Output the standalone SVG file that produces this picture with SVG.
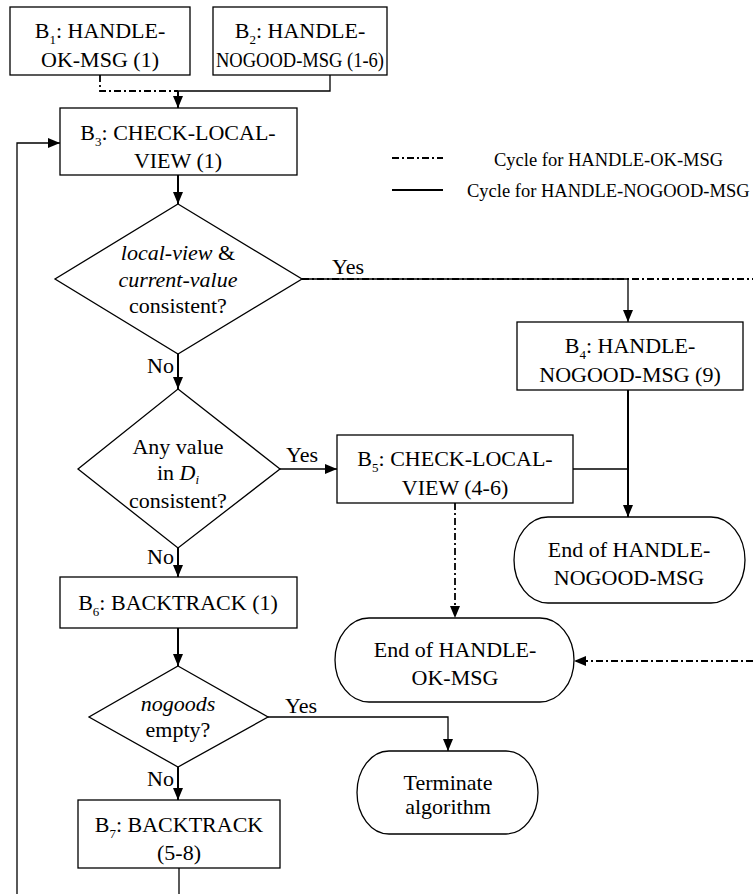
<svg xmlns="http://www.w3.org/2000/svg" width="753" height="894" viewBox="0 0 753 894" font-family="'Liberation Serif', 'Times New Roman', 'DejaVu Serif', serif">
<style>
text{font-family:'Liberation Serif','Times New Roman','DejaVu Serif',serif;font-size:22px;fill:#000}
.c{text-anchor:middle}
.lg{font-size:18.5px}
.sub{font-size:13px}
.it{font-style:italic}
.box{fill:#fff;stroke:#000;stroke-width:1.3}
.ln{fill:none;stroke:#000;stroke-width:1.3}
.th{fill:none;stroke:#000;stroke-width:2}
.dd{fill:none;stroke:#000;stroke-width:1.8;stroke-dasharray:7 3 2 3}
</style>
<defs>
<marker id="arr" viewBox="0 0 12 10" refX="12" refY="5" markerWidth="12" markerHeight="10" orient="auto" markerUnits="userSpaceOnUse">
<path d="M0,0 L12,5 L0,10 z" fill="#000" stroke="none"/>
</marker>
</defs>
<g id="connectors">
<path class="dd" d="M100,75 V91 H178"/>
<path class="ln" d="M330,75 V91 H178"/>
<path class="th" d="M178,91 V108" marker-end="url(#arr)"/>
<path class="th" d="M178,175 V204" marker-end="url(#arr)"/>
<path class="dd" d="M302,279 H753"/>
<path class="ln" d="M302,279 H628 V322" marker-end="url(#arr)"/>
<path class="th" d="M178,354 V389" marker-end="url(#arr)"/>
<path class="ln" d="M280,469 H337" marker-end="url(#arr)"/>
<path class="ln" d="M573,469 H628"/>
<path class="th" d="M628,390 V517" marker-end="url(#arr)"/>
<path class="dd" d="M455,503 V618" marker-end="url(#arr)"/>
<path class="dd" d="M753,661 H574" marker-end="url(#arr)"/>
<path class="th" d="M178,548 V577" marker-end="url(#arr)"/>
<path class="th" d="M178,628 V666" marker-end="url(#arr)"/>
<path class="ln" d="M268,717 H448 V751" marker-end="url(#arr)"/>
<path class="th" d="M178,767 V800" marker-end="url(#arr)"/>
<path class="ln" d="M179,868 V894"/>
<path class="ln" d="M17,894 V143 H60" marker-end="url(#arr)"/>
<text x="332" y="274">Yes</text>
<text x="174" y="373" text-anchor="end">No</text>
<text x="286" y="462">Yes</text>
<text x="174" y="564" text-anchor="end">No</text>
<text x="285" y="713">Yes</text>
<text x="174" y="786" text-anchor="end">No</text>
</g>
<g id="legend">
<path class="dd" d="M392,158 H443"/>
<path class="ln" d="M392,190 H443" style="stroke-width:2"/>
<text class="lg" x="494" y="166">Cycle for HANDLE-OK-MSG</text>
<text class="lg" x="467" y="197">Cycle for HANDLE-NOGOOD-MSG</text>
</g>
<g id="B1">
<rect class="box" x="10" y="7" width="180" height="68"/>
<text class="c" x="100" y="38">B<tspan class="sub" dy="6">1</tspan><tspan dy="-6">: HANDLE-</tspan></text>
<text class="c" x="100" y="67">OK-MSG (1)</text>
</g>
<g id="B2">
<rect class="box" x="213" y="7" width="174" height="68"/>
<text class="c" x="300" y="38">B<tspan class="sub" dy="6">2</tspan><tspan dy="-6">: HANDLE-</tspan></text>
<text class="c" x="300" y="67" textLength="168" lengthAdjust="spacingAndGlyphs">NOGOOD-MSG (1-6)</text>
</g>
<g id="B3">
<rect class="box" x="60" y="108" width="237" height="67"/>
<text class="c" x="178" y="140">B<tspan class="sub" dy="6">3</tspan><tspan dy="-6">: CHECK-LOCAL-</tspan></text>
<text class="c" x="178" y="168">VIEW (1)</text>
</g>
<g id="D1">
<polygon class="box" points="178,204 302,279 178,354 55,279"/>
<text class="c" x="178" y="260"><tspan class="it">local-view</tspan> &amp;</text>
<text class="c it" x="178" y="287">current-value</text>
<text class="c" x="178" y="313">consistent?</text>
</g>
<g id="B4">
<rect class="box" x="517" y="322" width="226" height="68"/>
<text class="c" x="630" y="353">B<tspan class="sub" dy="6">4</tspan><tspan dy="-6">: HANDLE-</tspan></text>
<text class="c" x="630" y="382">NOGOOD-MSG (9)</text>
</g>
<g id="D2">
<polygon class="box" points="178,389 280,469 178,548 78,469"/>
<text class="c" x="178" y="454">Any value</text>
<text class="c" x="178" y="480">in <tspan class="it">D</tspan><tspan class="sub it" dy="4">i</tspan></text>
<text class="c" x="178" y="508">consistent?</text>
</g>
<g id="B5">
<rect class="box" x="337" y="435" width="236" height="68"/>
<text class="c" x="455" y="466">B<tspan class="sub" dy="6">5</tspan><tspan dy="-6">: CHECK-LOCAL-</tspan></text>
<text class="c" x="455" y="495">VIEW (4-6)</text>
</g>
<g id="EndNogood">
<rect class="box" x="514" y="517" width="231" height="86" rx="34" ry="43"/>
<text class="c" x="629" y="557">End of HANDLE-</text>
<text class="c" x="629" y="585">NOGOOD-MSG</text>
</g>
<g id="B6">
<rect class="box" x="60" y="577" width="237" height="51"/>
<text class="c" x="178" y="610">B<tspan class="sub" dy="6">6</tspan><tspan dy="-6">: BACKTRACK (1)</tspan></text>
</g>
<g id="EndOk">
<rect class="box" x="335" y="618" width="239" height="84" rx="34" ry="42"/>
<text class="c" x="455" y="657">End of HANDLE-</text>
<text class="c" x="455" y="685">OK-MSG</text>
</g>
<g id="D3">
<polygon class="box" points="178,666 268,717 178,767 89,717"/>
<text class="c it" x="178" y="711">nogoods</text>
<text class="c" x="178" y="737">empty?</text>
</g>
<g id="Terminate">
<rect class="box" x="357" y="751" width="181" height="83" rx="32" ry="41.5"/>
<text class="c" x="448" y="790">Terminate</text>
<text class="c" x="448" y="814">algorithm</text>
</g>
<g id="B7">
<rect class="box" x="78" y="800" width="202" height="68"/>
<text class="c" x="179" y="832">B<tspan class="sub" dy="6">7</tspan><tspan dy="-6">: BACKTRACK</tspan></text>
<text class="c" x="179" y="860">(5-8)</text>
</g>
</svg>
